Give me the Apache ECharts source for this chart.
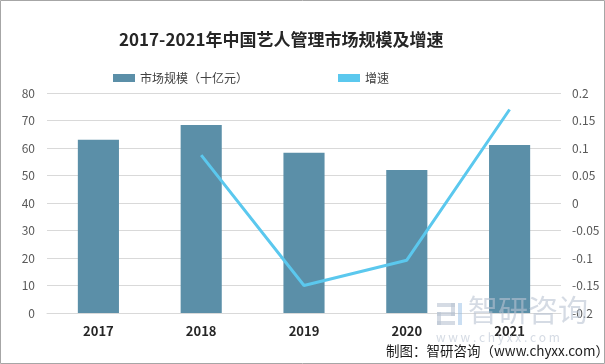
<!DOCTYPE html>
<html><head><meta charset="utf-8">
<script src="https://cdn.jsdelivr.net/npm/echarts@6/dist/echarts.min.js"></script>
<style>html,body{margin:0;padding:0;background:#fff}#c{width:605px;height:364px}</style>
</head><body><div id="c"></div>
<script>
const categories = ['2017','2018','2019','2020','2021'];
const marketSize = [63, 68.4, 58.3, 52, 61.1];
const growthRate = [null, 0.087, -0.150, -0.104, 0.170];
const chart = echarts.init(document.getElementById('c'));
const cjk = '"Noto Sans CJK SC", "Noto Sans", sans-serif';
const wm = 'rgba(185,195,210,0.6)';
chart.setOption({
  animation: false,
  backgroundColor: '#fff',
  textStyle: { fontFamily: cjk },
  title: {
    text: '2017-2021年中国艺人管理市场规模及增速',
    left: 114, top: 26,
    textStyle: { fontSize: 17, fontWeight: 'bold', color: '#262626', fontFamily: cjk }
  },
  legend: {
    top: 67, left: 108, itemGap: 90, itemWidth: 22, itemHeight: 8,
    textStyle: { fontSize: 12, color: '#404040' },
    data: [
      { name: '市场规模（十亿元）', icon: 'rect' },
      { name: '增速', icon: 'rect' }
    ]
  },
  grid: { left: 47, right: 44, top: 93, bottom: 51 },
  xAxis: {
    type: 'category', data: categories,
    axisLine: { lineStyle: { color: '#d9d9d9' } },
    axisTick: { show: false },
    axisLabel: { fontSize: 13, fontWeight: 'bold', color: '#262626', margin: 12 }
  },
  yAxis: [
    { type: 'value', min: 0, max: 80, interval: 10,
      axisLine: { show: false }, axisTick: { show: false },
      axisLabel: { fontSize: 12, color: '#595959', margin: 12 },
      splitLine: { lineStyle: { color: '#d9d9d9' } } },
    { type: 'value', min: -0.2, max: 0.2, interval: 0.05,
      axisLine: { show: false }, axisTick: { show: false },
      axisLabel: { fontSize: 12, color: '#595959', margin: 11,
        formatter: v => String(Math.round(v * 100) / 100) },
      splitLine: { show: false } }
  ],
  series: [
    { name: '市场规模（十亿元）', type: 'bar', data: marketSize, barWidth: '40%',
      itemStyle: { color: '#5B8FA8' } },
    { name: '增速', type: 'line', yAxisIndex: 1, data: growthRate,
      symbol: 'none', connectNulls: false,
      lineStyle: { width: 3, color: '#5BC8EE' }, itemStyle: { color: '#5BC8EE' } }
  ],
  graphic: [
    { type: 'rect', shape: { x: 0.5, y: 0.5, width: 604, height: 363 },
      style: { fill: 'none', stroke: '#a6a6a6', lineWidth: 1 }, z: 100 },
    { type: 'rect', z: 50, shape: { x: 437, y: 303, width: 18, height: 4 }, style: { fill: wm } },
    { type: 'rect', z: 50, shape: { x: 451, y: 303, width: 4, height: 13 }, style: { fill: wm } },
    { type: 'rect', z: 50, shape: { x: 437, y: 312, width: 18, height: 4 }, style: { fill: wm } },
    { type: 'rect', z: 50, shape: { x: 437, y: 312, width: 4, height: 13 }, style: { fill: wm } },
    { type: 'rect', z: 50, shape: { x: 437, y: 321, width: 18, height: 4 }, style: { fill: wm } },
    { type: 'rect', z: 50, shape: { x: 458, y: 303, width: 4, height: 22 }, style: { fill: 'rgba(150,190,230,0.5)' } },
    { type: 'text', left: 468, top: 295, z: 50,
      style: { text: '智研咨询', fontSize: 30, fill: wm, fontFamily: cjk } },
    { type: 'text', left: 436, top: 331, z: 50,
      style: { text: 'w w w . c h y x x . c o m', fontSize: 12, fill: wm, fontFamily: cjk } },
    { type: 'text', left: 386, top: 344, z: 60,
      style: { text: '制图：智研咨询（www.chyxx.com）', fontSize: 13.5, fill: '#1a1a1a', fontFamily: cjk } }
  ]
});
</script></body></html>
